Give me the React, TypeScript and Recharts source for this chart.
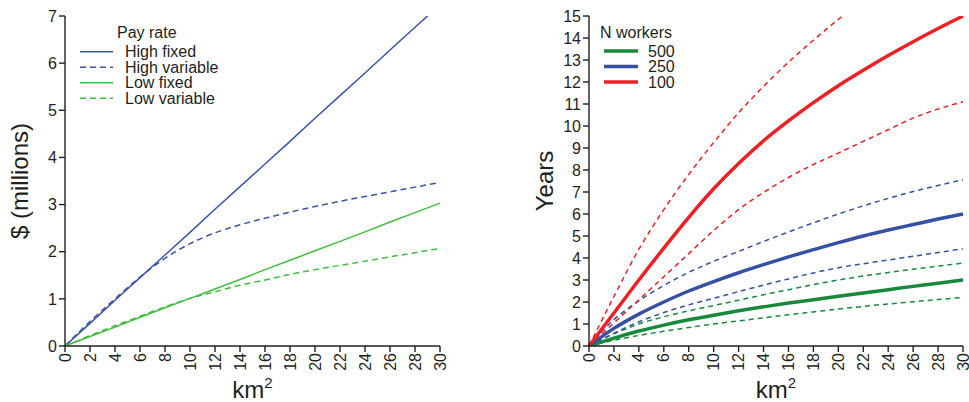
import React from "react";
import { LineChart, Line, XAxis, YAxis, Legend } from "recharts";

const FONT = '"Liberation Sans", Arial, Helvetica, sans-serif';
const INK = "#231f20";

// km² steps shared by both panels
const KM = [0, 2, 4, 6, 8, 10, 12, 14, 16, 18, 20, 22, 24, 26, 28, 30];
const KM_TICKS = KM;

// left panel: cost, $ millions
const HIGH_FIXED = [0, 0.48, 0.97, 1.45, 1.93, 2.41, 2.9, 3.38, 3.86, 4.34, 4.83, 5.31, 5.79, 6.28, 6.76, 7.24];
const HIGH_VARIABLE = [0, 0.52, 1.0, 1.46, 1.86, 2.17, 2.4, 2.57, 2.71, 2.84, 2.96, 3.07, 3.17, 3.27, 3.37, 3.47];
const LOW_FIXED = [0, 0.2, 0.4, 0.61, 0.81, 1.01, 1.21, 1.41, 1.62, 1.82, 2.02, 2.22, 2.42, 2.63, 2.83, 3.03];
const LOW_VARIABLE = [0, 0.22, 0.43, 0.63, 0.83, 1.01, 1.15, 1.29, 1.4, 1.52, 1.62, 1.71, 1.8, 1.89, 1.98, 2.07];
const PAY_TICKS = [0, 1, 2, 3, 4, 5, 6, 7];

// right panel: years, by number of workers (mid, upper, lower)
const W500 = [0, 0.36, 0.68, 0.95, 1.19, 1.4, 1.6, 1.78, 1.95, 2.1, 2.26, 2.41, 2.56, 2.71, 2.85, 3.0];
const W500_HI = [0, 0.55, 1.0, 1.33, 1.6, 1.84, 2.08, 2.33, 2.56, 2.79, 3.0, 3.18, 3.34, 3.49, 3.63, 3.77];
const W500_LO = [0, 0.26, 0.48, 0.67, 0.84, 1.0, 1.14, 1.28, 1.42, 1.55, 1.68, 1.8, 1.91, 2.01, 2.11, 2.21];
const W250 = [0, 0.8, 1.45, 2.0, 2.5, 2.93, 3.33, 3.7, 4.05, 4.38, 4.7, 5.0, 5.27, 5.52, 5.77, 6.0];
const W250_HI = [0, 1.2, 2.05, 2.75, 3.35, 3.85, 4.3, 4.75, 5.18, 5.6, 6.0, 6.37, 6.71, 7.02, 7.3, 7.56];
const W250_LO = [0, 0.58, 1.1, 1.52, 1.87, 2.17, 2.47, 2.77, 3.05, 3.32, 3.56, 3.74, 3.91, 4.08, 4.25, 4.42];
const W100 = [0, 1.5, 3.0, 4.45, 5.85, 7.15, 8.3, 9.33, 10.23, 11.06, 11.83, 12.53, 13.2, 13.83, 14.43, 15.0];
const W100_HI = [0, 2.25, 4.4, 6.2, 7.8, 9.25, 10.6, 11.8, 12.9, 13.9, 14.85, 15.75, null, null, null, null];
const W100_LO = [0, 1.05, 2.1, 3.15, 4.2, 5.25, 6.2, 6.98, 7.66, 8.25, 8.77, 9.3, 9.83, 10.36, 10.77, 11.1];
const YEAR_TICKS = [0, 1, 2, 3, 4, 5, 6, 7, 8, 9, 10, 11, 12, 13, 14, 15];

const payData = KM.map((km, i) => ({
  km,
  highFixed: HIGH_FIXED[i],
  highVariable: HIGH_VARIABLE[i],
  lowFixed: LOW_FIXED[i],
  lowVariable: LOW_VARIABLE[i],
}));

const yearData = KM.map((km, i) => ({
  km,
  w500: W500[i],
  w500hi: W500_HI[i],
  w500lo: W500_LO[i],
  w250: W250[i],
  w250hi: W250_HI[i],
  w250lo: W250_LO[i],
  w100: W100[i],
  w100hi: W100_HI[i],
  w100lo: W100_LO[i],
}));

const BLUE = "#3a55a6";
const GREEN_L = "#3fbf3f";
const GREEN_R = "#17893b";
const BLUE_R = "#3451a3";
const RED = "#ee2024";

const PAY_SERIES = [
  { key: "highFixed", name: "High fixed", color: BLUE, dash: undefined, type: "linear" },
  { key: "highVariable", name: "High variable", color: BLUE, dash: "6 4", type: "monotone" },
  { key: "lowFixed", name: "Low fixed", color: GREEN_L, dash: undefined, type: "linear" },
  { key: "lowVariable", name: "Low variable", color: GREEN_L, dash: "6 4", type: "monotone" },
];

const YEAR_DASHED = [
  { key: "w500hi", color: GREEN_R },
  { key: "w500lo", color: GREEN_R },
  { key: "w250hi", color: BLUE_R },
  { key: "w250lo", color: BLUE_R },
  { key: "w100hi", color: RED },
  { key: "w100lo", color: RED },
];
const YEAR_SOLID = [
  { key: "w500", name: "500", color: GREEN_R },
  { key: "w250", name: "250", color: BLUE_R },
  { key: "w100", name: "100", color: RED },
];

const axisStroke = { stroke: INK, strokeWidth: 1.4 };
const tickText = { fontSize: 16, fill: INK, fontFamily: FONT };

function KmTick(props: any) {
  const { x, y, payload } = props;
  return (
    <text
      x={x}
      y={y}
      transform={`rotate(-90 ${x} ${y})`}
      textAnchor="end"
      dy="0.35em"
      fontSize={16}
      fill={INK}
      fontFamily={FONT}
    >
      {payload.value}
    </text>
  );
}

function kmLabel(props: any) {
  const vb = props.viewBox || {};
  const cx = (vb.x ?? 0) + (vb.width ?? 0) / 2;
  return (
    <text x={cx} y={398} textAnchor="middle" fontSize={24} fill={INK} fontFamily={FONT}>
      km
      <tspan dy={-10} fontSize={15}>2</tspan>
    </text>
  );
}

function yLabel(text: string, bx: number) {
  return (props: any) => {
    const vb = props.viewBox || {};
    const cy = (vb.y ?? 16) + (vb.height ?? 330) / 2;
    const x = (vb.x ?? 0) + bx;
    return (
      <text
        x={x}
        y={cy}
        transform={`rotate(-90 ${x} ${cy})`}
        textAnchor="middle"
        fontSize={24}
        fill={INK}
        fontFamily={FONT}
      >
        {text}
      </text>
    );
  };
}

function PayLegend() {
  return (
    <svg width={480} height={402} style={{ display: "block", overflow: "visible" }}>
      <text x={117} y={38} fontSize={16} fill={INK} fontFamily={FONT}>Pay rate</text>
      {PAY_SERIES.map((s, i) => (
        <g key={s.key}>
          <line x1={80} x2={113} y1={51.7 + 15.5 * i} y2={51.7 + 15.5 * i} stroke={s.color} strokeWidth={1.5} strokeDasharray={s.dash} />
          <text x={125} y={57 + 15.5 * i} fontSize={16} fill={INK} fontFamily={FONT}>{s.name}</text>
        </g>
      ))}
    </svg>
  );
}

function WorkerLegend() {
  return (
    <svg width={489} height={402} style={{ display: "block", overflow: "visible" }}>
      <text x={120} y={38} fontSize={16} fill={INK} fontFamily={FONT}>N workers</text>
      {YEAR_SOLID.map((s, i) => (
        <g key={s.key}>
          <line x1={124} x2={158} y1={51 + 15.5 * i} y2={51 + 15.5 * i} stroke={s.color} strokeWidth={3.5} />
          <text x={168} y={56.7 + 15.5 * i} fontSize={16} fill={INK} fontFamily={FONT}>{s.name}</text>
        </g>
      ))}
    </svg>
  );
}

export default function App() {
  return (
    <div style={{ position: "fixed", left: 0, top: 0, width: 969, height: 402, background: "#fff", fontFamily: FONT }}>
      <div style={{ position: "absolute", left: 0, top: 0 }}>
        <LineChart width={480} height={402} data={payData} margin={{ top: 16, right: 40, bottom: 0, left: 0 }}>
          <XAxis
            dataKey="km"
            type="number"
            domain={[0, 30]}
            ticks={KM_TICKS}
            interval={0}
            height={56}
            tickSize={6}
            tickMargin={1}
            axisLine={axisStroke}
            tickLine={axisStroke}
            tick={<KmTick />}
            label={{ content: kmLabel }}
          />
          <YAxis
            type="number"
            domain={[0, 7]}
            ticks={PAY_TICKS}
            interval={0}
            allowDataOverflow
            width={65}
            tickSize={6}
            tickMargin={2}
            axisLine={axisStroke}
            tickLine={axisStroke}
            tick={tickText}
            label={{ content: yLabel("$ (millions)", 28) }}
          />
          {PAY_SERIES.map((s) => (
            <Line
              key={s.key}
              dataKey={s.key}
              name={s.name}
              type={s.type as any}
              stroke={s.color}
              strokeWidth={1.5}
              strokeDasharray={s.dash}
              dot={false}
              activeDot={false}
              isAnimationActive={false}
            />
          ))}
          <Legend
            layout="horizontal"
            verticalAlign="middle"
            align="center"
            wrapperStyle={{ left: 0, top: 0, width: 480, height: 402, pointerEvents: "none" }}
            content={() => <PayLegend />}
          />
        </LineChart>
      </div>
      <div style={{ position: "absolute", left: 480, top: 0 }}>
        <LineChart width={489} height={402} data={yearData} margin={{ top: 16, right: 6, bottom: 0, left: 0 }}>
          <XAxis
            dataKey="km"
            type="number"
            domain={[0, 30]}
            ticks={KM_TICKS}
            interval={0}
            height={56}
            tickSize={6}
            tickMargin={1}
            axisLine={axisStroke}
            tickLine={axisStroke}
            tick={<KmTick />}
            label={{ content: kmLabel }}
          />
          <YAxis
            type="number"
            domain={[0, 15]}
            ticks={YEAR_TICKS}
            interval={0}
            allowDataOverflow
            width={109}
            tickSize={6}
            tickMargin={2}
            axisLine={axisStroke}
            tickLine={axisStroke}
            tick={tickText}
            label={{ content: yLabel("Years", 73) }}
          />
          {YEAR_DASHED.map((s) => (
            <Line
              key={s.key}
              dataKey={s.key}
              type="monotone"
              stroke={s.color}
              strokeWidth={1.5}
              strokeDasharray="5 4"
              dot={false}
              activeDot={false}
              legendType="none"
              isAnimationActive={false}
            />
          ))}
          {YEAR_SOLID.map((s) => (
            <Line
              key={s.key}
              dataKey={s.key}
              name={s.name}
              type="monotone"
              stroke={s.color}
              strokeWidth={3.5}
              dot={false}
              activeDot={false}
              isAnimationActive={false}
            />
          ))}
          <Legend
            layout="horizontal"
            verticalAlign="middle"
            align="center"
            wrapperStyle={{ left: 0, top: 0, width: 489, height: 402, pointerEvents: "none" }}
            content={() => <WorkerLegend />}
          />
        </LineChart>
      </div>
    </div>
  );
}
